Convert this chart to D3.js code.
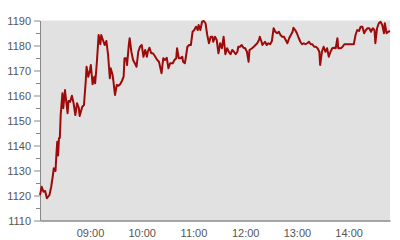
<!DOCTYPE html>
<html>
<head>
<meta charset="utf-8">
<script src="https://cdn.jsdelivr.net/npm/d3@7"></script>
<style>
  body { margin: 0; background: #fff; }
  text { font-family: "Liberation Sans", Arial, sans-serif; }
</style>
</head>
<body>
<div id="chart"></div>
<script>
var width = 400;
var height = 240;
var margin = {top: 20.5, right: 10, bottom: 19.5, left: 40};

// price readings through the trading day
var times = [
  "08:02","08:04","08:06","08:08","08:10","08:13","08:15","08:17","08:18","08:20",
  "08:21","08:22","08:23","08:24","08:25","08:26","08:28","08:29","08:31","08:32",
  "08:34","08:35","08:37","08:39","08:41","08:43","08:45","08:47","08:48","08:51",
  "08:53","08:55","08:56","08:58","09:00","09:01","09:03","09:05","09:06","09:08",
  "09:10","09:12","09:13","09:15","09:17","09:19","09:21","09:23","09:24","09:26",
  "09:27","09:29","09:31","09:33","09:35","09:37","09:39","09:40","09:42","09:43",
  "09:45","09:46","09:48","09:50","09:52","09:54","09:56","09:58","10:00","10:02",
  "10:04","10:06","10:07","10:09","10:11","10:13","10:15","10:18","10:20","10:23",
  "10:25","10:27","10:29","10:31","10:33","10:36","10:38","10:40","10:41","10:43",
  "10:45","10:47","10:48","10:50","10:51","10:53","10:55","10:57","10:59","11:01",
  "11:03","11:05","11:06","11:08","11:10","11:12","11:14","11:16","11:18","11:20",
  "11:22","11:23","11:25","11:27","11:29","11:31","11:33","11:35","11:37","11:39",
  "11:41","11:43","11:45","11:47","11:49","11:51","11:52","11:54","11:56","11:58",
  "12:00","12:02","12:04","12:05","12:08","12:10","12:12","12:14","12:16","12:17",
  "12:19","12:20","12:23","12:25","12:27","12:29","12:31","12:33","12:35","12:37",
  "12:39","12:41","12:43","12:45","12:47","12:49","12:51","12:53","12:55","12:56",
  "12:58","13:00","13:02","13:04","13:06","13:08","13:10","13:12","13:14","13:16",
  "13:18","13:20","13:22","13:24","13:26","13:27","13:29","13:31","13:33","13:35",
  "13:37","13:39","13:41","13:43","13:45","13:47","13:48","13:51","13:53","13:55",
  "14:06","14:08","14:10","14:12","14:14","14:16","14:18","14:20","14:22","14:24",
  "14:26","14:28","14:30","14:31","14:33","14:35","14:37","14:39","14:41","14:42",
  "14:44","14:46","14:48"
];
var prices = [
  1120.2,1123.5,1121.5,1121.8,1118.9,1120.2,1123.5,1128.2,1130.9,1129.8,
  1136.2,1141.5,1136.0,1142.9,1143.0,1152.2,1160.9,1154.9,1162.2,1158.9,
  1152.9,1157.8,1157.5,1159.9,1156.9,1152.2,1156.9,1155.1,1151.8,1155.5,
  1156.2,1165.5,1171.5,1167.5,1170.2,1172.2,1164.5,1167.5,1164.9,1173.5,
  1184.2,1180.5,1184.2,1182.2,1180.2,1181.8,1176.2,1166.9,1170.9,1168.5,
  1166.2,1160.2,1164.2,1163.9,1164.5,1165.8,1167.5,1174.9,1174.9,1172.2,
  1180.2,1182.9,1177.5,1174.2,1172.9,1171.5,1177.5,1179.5,1180.2,1175.5,
  1178.2,1175.5,1177.5,1179.1,1176.9,1176.9,1175.9,1174.2,1173.5,1168.9,
  1174.9,1174.2,1175.1,1170.9,1172.9,1172.9,1174.2,1174.9,1178.9,1174.9,
  1174.9,1175.5,1173.5,1172.9,1174.9,1179.5,1180.2,1180.2,1185.5,1186.2,
  1187.5,1186.2,1188.2,1186.2,1189.5,1189.8,1188.9,1184.2,1180.9,1183.5,
  1183.5,1181.5,1183.5,1182.2,1176.9,1180.9,1178.9,1183.5,1176.5,1178.9,
  1177.5,1176.5,1178.2,1177.5,1176.5,1177.5,1179.5,1179.5,1180.2,1179.1,
  1178.9,1177.5,1173.5,1178.2,1178.9,1179.5,1180.2,1180.9,1182.2,1183.5,
  1181.5,1180.2,1181.5,1180.2,1180.9,1180.5,1181.8,1186.9,1185.5,1184.9,
  1185.5,1184.2,1183.5,1183.5,1182.2,1180.9,1182.9,1184.2,1185.5,1187.1,
  1186.2,1184.9,1183.1,1181.5,1180.5,1180.9,1180.5,1180.9,1181.5,1180.5,
  1180.5,1179.5,1179.5,1178.9,1177.5,1172.2,1177.5,1179.5,1177.5,1178.9,
  1175.5,1177.5,1178.9,1179.1,1178.9,1182.9,1178.9,1178.9,1179.5,1180.5,
  1180.5,1184.2,1186.2,1185.8,1187.5,1187.5,1184.9,1186.2,1186.9,1186.9,
  1185.5,1186.9,1186.2,1180.9,1186.9,1188.9,1189.5,1188.2,1184.9,1188.9,
  1184.9,1185.5,1185.8
];
var yTicks = [1110, 1120, 1130, 1140, 1150, 1160, 1170, 1180, 1190];
var yMinorTicks = [1115, 1125, 1135, 1145, 1155, 1165, 1175, 1185];

var parseTime = d3.timeParse("%H:%M");
var data = times.map(function(t, i) {
  return {time: parseTime(t), price: prices[i]};
});

var svg = d3.select("#chart").append("svg")
  .attr("width", width)
  .attr("height", height);

var x = d3.scaleTime()
  .domain(d3.extent(data, function(d) { return d.time; }))
  .range([margin.left, width - margin.right]);

var y = d3.scaleLinear()
  .domain([1110, 1190])
  .range([height - margin.bottom, margin.top]);

// plot background
svg.append("rect")
  .attr("x", margin.left)
  .attr("y", margin.top)
  .attr("width", width - margin.right - margin.left)
  .attr("height", height - margin.bottom - margin.top)
  .attr("fill", "#e1e1e1");

// minor y ticks
svg.append("g")
  .attr("transform", "translate(" + margin.left + ",0)")
  .call(d3.axisLeft(y).tickValues(yMinorTicks).tickSize(4).tickFormat(""))
  .call(function(g) {
    g.select(".domain").remove();
    g.selectAll("line").attr("stroke", "#888");
  });

// y axis
svg.append("g")
  .attr("transform", "translate(" + margin.left + ",0)")
  .call(d3.axisLeft(y).tickValues(yTicks).tickFormat(d3.format("d"))
    .tickSize(6).tickSizeOuter(0).tickPadding(3))
  .call(function(g) {
    g.select(".domain").attr("stroke", "#888");
    g.selectAll("line").attr("stroke", "#888");
    g.selectAll("text")
      .attr("fill", "#555")
      .style("font-size", "11px");
  });

// x axis
svg.append("g")
  .attr("transform", "translate(0," + (height - margin.bottom) + ")")
  .call(d3.axisBottom(x).ticks(d3.timeHour.every(1)).tickFormat(d3.timeFormat("%H:%M"))
    .tickSize(0).tickSizeOuter(0).tickPadding(9))
  .call(function(g) {
    g.select(".domain").attr("stroke", "#888").attr("stroke-width", 1.5);
    g.selectAll("text")
      .attr("fill", "#555")
      .style("font-size", "11px");
  });

var line = d3.line()
  .x(function(d) { return x(d.time); })
  .y(function(d) { return y(d.price); });

svg.append("path")
  .datum(data)
  .attr("d", line)
  .attr("fill", "none")
  .attr("stroke", "#9c0a0a")
  .attr("stroke-width", 2)
  .attr("stroke-linejoin", "round");
</script>
</body>
</html>
